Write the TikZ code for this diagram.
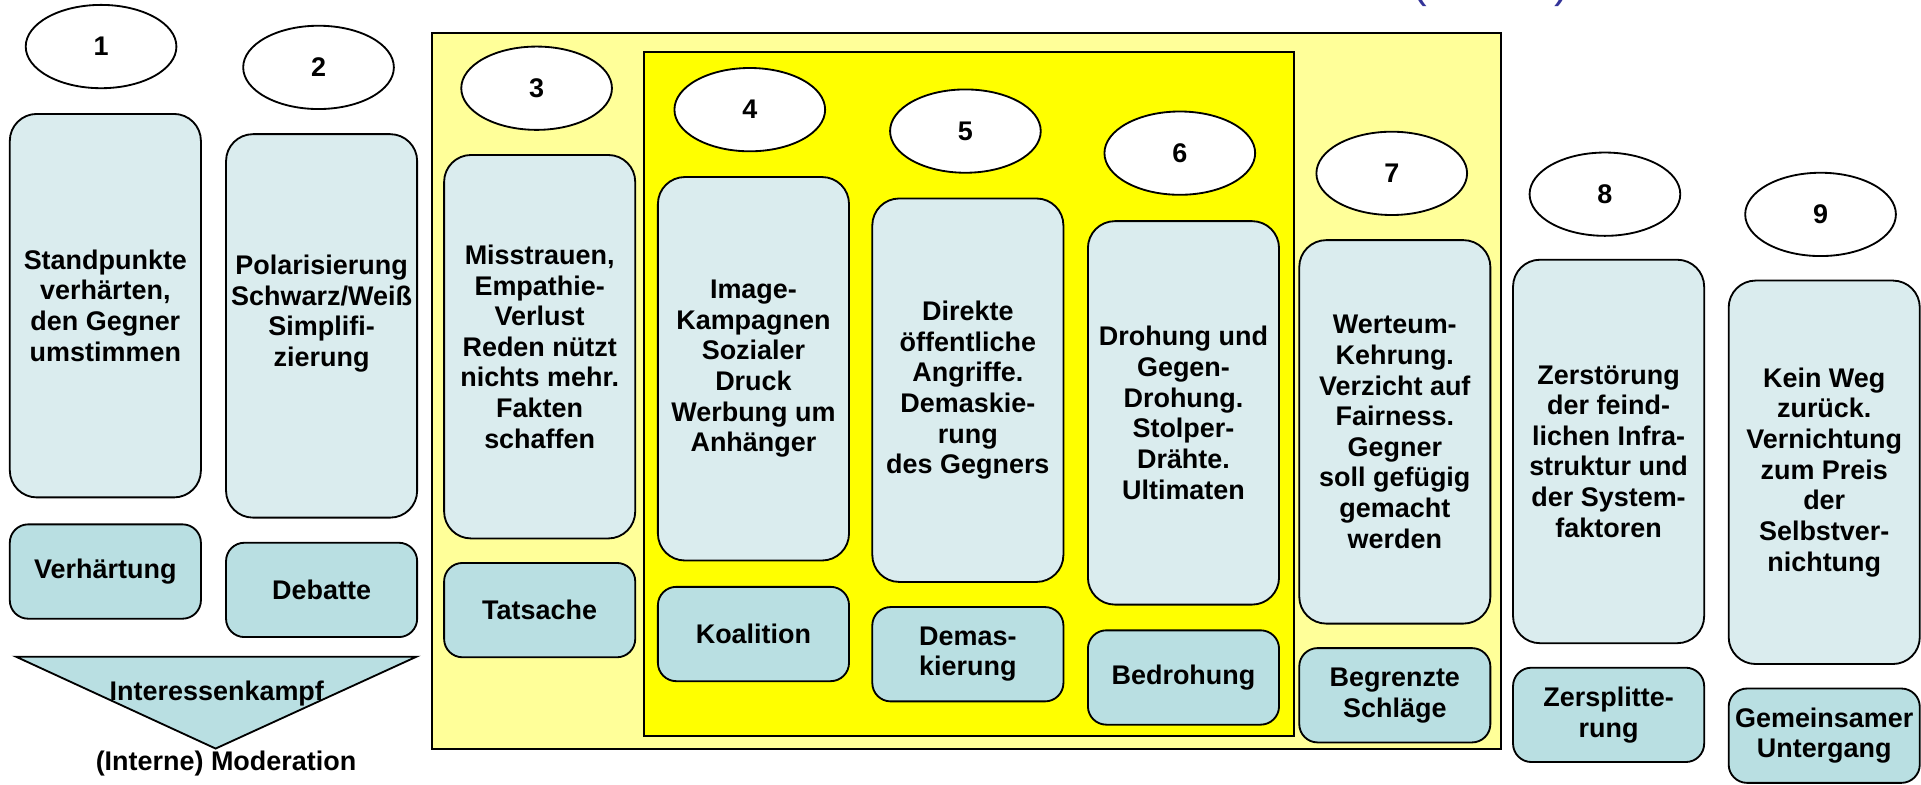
\documentclass[tikz,border=0pt]{standalone}
\usepackage{fontspec}
\setmainfont{Liberation Sans}
\usetikzlibrary{shapes.geometric}
\definecolor{boxlight}{RGB}{218,236,238}
\definecolor{boxdark}{RGB}{185,223,226}
\definecolor{paleyellow}{RGB}{255,255,153}
\definecolor{strongyellow}{RGB}{255,255,0}
\definecolor{titleblue}{RGB}{51,51,153}
\tikzset{
  txt/.style={font=\bfseries\fontsize{22}{25}\selectfont, align=center, inner sep=0pt},
  stagebox/.style={txt, draw=black, line width=1.5pt, fill=boxlight, rounded corners=22pt,
                   minimum width=156pt, minimum height=313pt},
  namebox/.style={txt, draw=black, line width=1.5pt, fill=boxdark, rounded corners=15pt,
                  minimum width=156pt, minimum height=77pt},
  numoval/.style={txt, ellipse, draw=black, line width=1.5pt, fill=white,
                  minimum width=123pt, minimum height=68pt},
  area/.style={draw=black, line width=1.6pt},
  paren/.style={font=\fontsize{36}{36}\selectfont, text=titleblue, inner sep=0pt, anchor=base west}
}
\begin{document}
\begin{tikzpicture}[x=1pt, y=-1pt]
\useasboundingbox (0,0) rectangle (1568,640);
\fill[white] (0,0) rectangle (1568,640);
% partially visible title parentheses
\begin{scope}
\clip (0,0) rectangle (1568,640);
\node[paren] (lp) at (1153,-2) {(};
\node[paren] (rp) at (1269,-2) {)};
\end{scope}
% yellow areas
\draw[area, fill=paleyellow] (353,27) rectangle (1225,611);
\draw[area, fill=strongyellow] (525.5,42.5) rectangle (1056.5,600.5);
% ellipses
\node[numoval] (n1) at (82.5,38) {1};
\node[numoval] (n2) at (260,55) {2};
\node[numoval] (n3) at (438,72) {3};
\node[numoval] (n4) at (612,89.5) {4};
\node[numoval] (n5) at (788,107) {5};
\node[numoval] (n6) at (963,125) {6};
\node[numoval] (n7) at (1136,141.5) {7};
\node[numoval] (n8) at (1310,158.5) {8};
\node[numoval] (n9) at (1486,175) {9};
% stage boxes
\node[stagebox] (s1) at (86,249.5) {Standpunkte\\verhärten,\\den Gegner\\umstimmen};
\node[stagebox] (s2) at (262.5,266) {Polarisierung\\Schwarz/Weiß\\Simplifi-\\zierung\\~};
\node[stagebox] (s3) at (440.5,283) {Misstrauen,\\Empathie-\\Verlust\\Reden nützt\\nichts mehr.\\Fakten\\schaffen};
\node[stagebox] (s4) at (615,301) {Image-\\Kampagnen\\Sozialer\\Druck\\Werbung um\\Anhänger};
\node[stagebox] (s5) at (790,318.5) {Direkte\\öffentliche\\Angriffe.\\Demaskie-\\rung\\des Gegners};
\node[stagebox] (s6) at (966,337) {Drohung und\\Gegen-\\Drohung.\\Stolper-\\Drähte.\\Ultimaten};
\node[stagebox] (s7) at (1138.5,352.5) {Werteum-\\Kehrung.\\Verzicht auf\\Fairness.\\Gegner\\soll gefügig\\gemacht\\werden};
\node[stagebox] (s8) at (1313,368.5) {Zerstörung\\der feind-\\lichen Infra-\\struktur und\\der System-\\faktoren};
\node[stagebox] (s9) at (1489,385.5) {Kein Weg\\zurück.\\Vernichtung\\zum Preis\\der\\Selbstver-\\nichtung};
% name boxes
\node[namebox] (b1) at (86,466.5) {Verhärtung};
\node[namebox] (b2) at (262.5,481.5) {Debatte};
\node[namebox] (b3) at (440.5,498) {Tatsache};
\node[namebox] (b4) at (615,517.5) {Koalition};
\node[namebox] (b5) at (790,534) {Demas-\\kierung};
\node[namebox] (b6) at (966,553) {Bedrohung};
\node[namebox] (b7) at (1138.5,567.5) {Begrenzte\\Schläge};
\node[namebox] (b8) at (1313,583.5) {Zersplitte-\\rung};
\node[namebox] (b9) at (1489,600.5) {Gemeinsamer\\Untergang};
% triangle
\draw[line width=1.5pt, fill=boxdark] (13,536) coordinate (t1) -- (340,536) coordinate (t2) -- (176,611) coordinate (t3) -- cycle;
\node[txt] (ik) at (177,566) {Interessenkampf};
\node[txt] (mod) at (184.5,623) {(Interne) Moderation};
\end{tikzpicture}
\end{document}
